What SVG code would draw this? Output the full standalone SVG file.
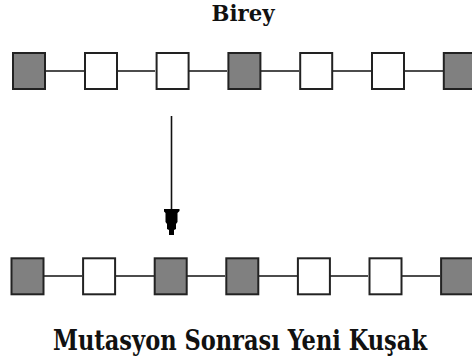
<svg xmlns="http://www.w3.org/2000/svg" width="472" height="359" viewBox="0 0 472 359">
<style>
.g{fill:#808080;stroke:#222;stroke-width:2}
.w{fill:#fff;stroke:#222;stroke-width:2}
.c{stroke:#111;stroke-width:1.6;fill:none}
</style>
<defs>
<marker id="ah" markerUnits="userSpaceOnUse" viewBox="0 -8 26 16" refX="0" refY="0" markerWidth="26" markerHeight="16" orient="auto">
<path d="M0,-8 L2,-8 L4,-6 L13,-6 L15,-4.5 L20,-4.5 L21,-2.5 L26,-2.5 L26,2.5 L21,2.5 L20,4.5 L15,4.5 L13,6 L4,6 L2,8 L0,8 Z" fill="#000"/>
</marker>
</defs>
<rect width="472" height="359" fill="#fff"/>
<text x="243" y="21" font-family="'DejaVu Serif Condensed', 'DejaVu Serif', serif" font-weight="bold" fill="#111" font-size="22" text-anchor="middle" textLength="63" lengthAdjust="spacingAndGlyphs">Birey</text>
<g id="connectors">
<line class="c" x1="46" y1="71" x2="84" y2="71"/>
<line class="c" x1="117" y1="71" x2="155" y2="71"/>
<line class="c" x1="189" y1="71" x2="227" y2="71"/>
<line class="c" x1="261" y1="71" x2="299" y2="71"/>
<line class="c" x1="333" y1="71" x2="371" y2="71"/>
<line class="c" x1="405" y1="71" x2="443" y2="71"/>
<line class="c" x1="44" y1="276" x2="82" y2="276"/>
<line class="c" x1="115" y1="276" x2="154" y2="276"/>
<line class="c" x1="187" y1="276" x2="225" y2="276"/>
<line class="c" x1="258" y1="276" x2="297" y2="276"/>
<line class="c" x1="330" y1="276" x2="368" y2="276"/>
<line class="c" x1="402" y1="276" x2="440" y2="276"/>
<line x1="171.5" y1="116" x2="171.5" y2="209" stroke="#111" stroke-width="1.6" marker-end="url(#ah)"/>
</g>
<g id="top1"><rect class="g" x="13" y="53" width="32" height="36"/></g>
<g id="top2"><rect class="w" x="85" y="53" width="32" height="36"/></g>
<g id="top3"><rect class="w" x="156.6" y="53" width="32" height="36"/></g>
<g id="top4"><rect class="g" x="228.4" y="53" width="32" height="36"/></g>
<g id="top5"><rect class="w" x="300.2" y="53" width="32" height="36"/></g>
<g id="top6"><rect class="w" x="372" y="53" width="32" height="36"/></g>
<g id="top7"><rect class="g" x="443.8" y="53" width="32" height="36"/></g>
<g id="bot1"><rect class="g" x="11.5" y="258.3" width="32" height="36"/></g>
<g id="bot2"><rect class="w" x="83.1" y="258.3" width="32" height="36"/></g>
<g id="bot3"><rect class="g" x="154.7" y="258.3" width="32" height="36"/></g>
<g id="bot4"><rect class="g" x="226.3" y="258.3" width="32" height="36"/></g>
<g id="bot5"><rect class="w" x="297.9" y="258.3" width="32" height="36"/></g>
<g id="bot6"><rect class="w" x="369.5" y="258.3" width="32" height="36"/></g>
<g id="bot7"><rect class="g" x="441.1" y="258.3" width="32" height="36"/></g>
<text x="53" y="349.5" font-family="'DejaVu Serif Condensed', 'DejaVu Serif', serif" font-weight="bold" fill="#111" font-size="27" textLength="374" lengthAdjust="spacingAndGlyphs">Mutasyon Sonrası Yeni Kuşak</text>
</svg>
